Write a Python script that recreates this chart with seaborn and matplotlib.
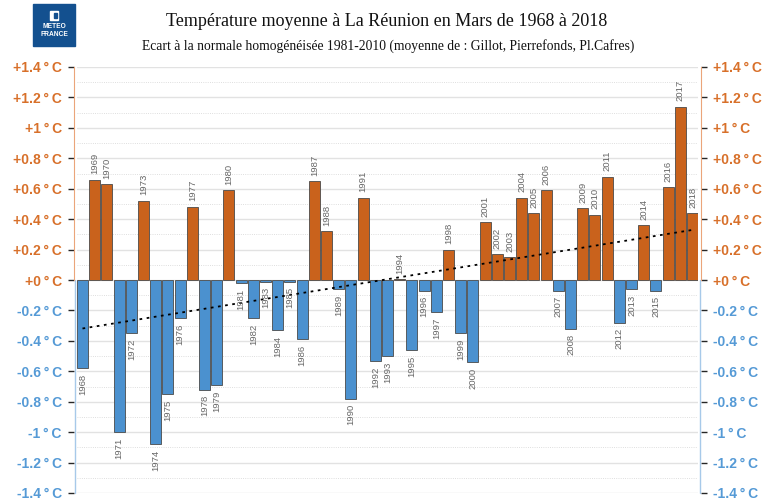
import numpy as np
import pandas as pd
import seaborn as sns
import matplotlib.pyplot as plt
from matplotlib.patches import Rectangle
from matplotlib import transforms

# Ecart de temperature (degC) en mars, 1968 -> 2018
years = list(range(1968, 2019))
anomalies = [
    -0.58, 0.66, 0.63, -1.00, -0.35, 0.52, -1.08, -0.75, -0.25, 0.48,
    -0.72, -0.69, 0.59, -0.02, -0.25, -0.01, -0.33, -0.01, -0.39, 0.65,
    0.32, -0.06, -0.78, 0.54, -0.53, -0.50, 0.005, -0.46, -0.07, -0.21,
    0.20, -0.35, -0.54, 0.38, 0.17, 0.15, 0.54, 0.44, 0.59, -0.07,
    -0.32, 0.47, 0.43, 0.68, -0.28, -0.06, 0.36, -0.07, 0.61, 1.14,
    0.44,
]
yticks = [-1.4, -1.2, -1.0, -0.8, -0.6, -0.4, -0.2, 0.0,
          0.2, 0.4, 0.6, 0.8, 1.0, 1.2, 1.4]
title = "Température moyenne à La Réunion en Mars de 1968 à 2018"
subtitle = "Ecart à la normale homogénéisée 1981-2010 (moyenne de : Gillot, Pierrefonds, Pl.Cafres)"

orange = "#c9621c"
blue = "#4b91cf"
orange_txt = "#d8702a"
blue_txt = "#559ad6"
orange_line = "#eba57a"
blue_line = "#a7c9e9"

df = pd.DataFrame({"year": years, "anomaly": anomalies})
df["sign"] = np.where(df["anomaly"] >= 0, "pos", "neg")

sns.set_style("white")
plt.rcParams["font.family"] = ["Liberation Sans", "DejaVu Sans"]

fig = plt.figure(figsize=(7.64, 5.01), dpi=100)
ax = fig.add_axes([77 / 764, 8 / 501, 621 / 764, 426 / 501])

sns.barplot(data=df, x="year", y="anomaly", hue="sign",
            palette={"pos": orange, "neg": blue}, dodge=False, width=0.9,
            saturation=1, errorbar=None, edgecolor="#4a4a4a", linewidth=0.6,
            legend=False, ax=ax, zorder=2)

# tendance lineaire
xpos = np.arange(len(years))
sns.regplot(x=xpos, y=np.array(anomalies), scatter=False, ci=None, ax=ax,
            line_kws=dict(ls=(0, (1.5, 2.5)), color="black", lw=1.3, zorder=3))

# annees au-dessus / au-dessous des barres
for i, (yr, v) in enumerate(zip(years, anomalies)):
    up = v >= 0
    ax.annotate(str(yr), (i, v), xytext=(0, 4 if up else -4),
                textcoords="offset points", rotation=90, ha="center",
                va="bottom" if up else "top", fontsize=6.8, color="#666666")

ax.set_xlim(-0.45, len(years) - 0.55)
ax.set_ylim(-1.4, 1.4)
ax.set_xlabel("")
ax.set_ylabel("")
ax.set_xticks([])


def fmt(v):
    v = round(v, 1)
    sign = "-" if v < 0 else "+"
    return f"{sign}{abs(v):g}\u2009°\u2009C"


ax.set_yticks(yticks)
ax.set_yticklabels([fmt(v) for v in yticks])
ax.set_yticks([v + 0.1 for v in yticks[:-1]], minor=True)
ax.grid(which="major", axis="y", color="#e2e2e2", lw=1.0, zorder=0)
ax.grid(which="minor", axis="y", color="#d4d4d4", lw=0.6, ls=":", zorder=0)
ax.set_axisbelow(True)

ax.tick_params(axis="y", which="major", left=True, right=True, labelleft=True,
               labelright=True, length=4, width=1, direction="out", pad=5,
               labelsize=10)
ax.tick_params(axis="y", which="minor", length=0)

for side in ["top", "bottom", "left", "right"]:
    ax.spines[side].set_visible(False)
for side, xa in [("left", 0), ("right", 1)]:
    ax.spines[side].set_visible(True)
    ax.spines[side].set_position(("outward", 2))
    ax.spines[side].set_bounds(0, 1.4)
    ax.spines[side].set_color(orange_line)
    off = -2 if side == "left" else 2
    tr = transforms.offset_copy(ax.get_yaxis_transform(), fig=fig, x=off, units="dots")
    ax.plot([xa, xa], [-1.4, 0], transform=tr, color=blue_line, lw=1, clip_on=False)

fig.canvas.draw()
for t in ax.yaxis.get_major_ticks():
    pos = t.get_loc() >= -1e-9
    for lab in (t.label1, t.label2):
        lab.set_color(orange_txt if pos else blue_txt)
        lab.set_fontweight("bold")
    for ln in (t.tick1line, t.tick2line):
        ln.set_color(orange_line if pos else blue_line)

# titres
fig.text(387 / 764, 1 - 22 / 501, title, family="Liberation Serif", fontsize=13,
         ha="center", va="center", color="#111111")
fig.text(388 / 764, 1 - 46 / 501, subtitle, family="Liberation Serif", fontsize=9.8,
         ha="center", va="center", color="#111111")

# logo
fig.patches.append(Rectangle((33 / 764, 1 - 46 / 501), 42 / 764, 42 / 501,
                             transform=fig.transFigure, color="#13508f"))
fig.patches.append(Rectangle((50 / 764, 1 - 20 / 501), 8 / 764, 9 / 501,
                             transform=fig.transFigure, color="white"))
fig.patches.append(Rectangle((54 / 764, 1 - 18 / 501), 3 / 764, 5 / 501,
                             transform=fig.transFigure, color="#13508f"))
fig.text(54 / 764, 1 - 27 / 501, "METEO", color="white", fontsize=4.8,
         fontweight="bold", ha="center", va="center")
fig.text(54 / 764, 1 - 34 / 501, "FRANCE", color="white", fontsize=4.8,
         fontweight="bold", ha="center", va="center")

fig.savefig("out.png", dpi=100)
